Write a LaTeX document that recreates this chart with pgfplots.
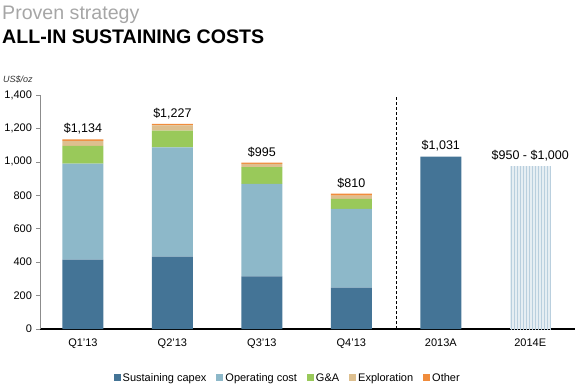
\documentclass[border=0pt]{standalone}
\usepackage{pgfplots}
\pgfplotsset{compat=1.18}
\usetikzlibrary{patterns}
\usepackage{fontspec}
\setmainfont{Liberation Sans}
\definecolor{capex}{RGB}{68,116,150}
\definecolor{opc}{RGB}{141,184,201}
\definecolor{gna}{RGB}{153,201,90}
\definecolor{expl}{RGB}{221,191,143}
\definecolor{oth}{RGB}{240,140,60}
\definecolor{ttlgray}{RGB}{166,166,166}
\definecolor{hatchc}{RGB}{185,207,222}
\tikzset{vallbl/.style={anchor=south,inner sep=0,font=\fontsize{12.5bp}{14bp}\selectfont}}
\begin{document}
\begin{tikzpicture}
\useasboundingbox (0,0) rectangle (580bp,-388bp);
\node[anchor=base west,inner sep=0,text=ttlgray,font=\fontsize{19.6bp}{22bp}\selectfont] at (2bp,-19bp) {Proven strategy};
\node[anchor=base west,inner sep=0,font=\fontsize{19.6bp}{22bp}\selectfont\bfseries] at (2bp,-43bp) {ALL-IN SUSTAINING COSTS};
\node[anchor=base west,inner sep=0,font=\fontsize{9bp}{10bp}\selectfont\itshape,text=black!80] at (3bp,-82bp) {US\$/oz};
\begin{axis}[
  at={(40bp,-329bp)}, anchor=south west,
  scale only axis, width=535bp, height=234bp,
  ybar stacked, bar width=41bp,
  xmin=-0.48, xmax=5.5, ymin=0, ymax=1400,
  axis lines*=left,
  x axis line style={black,line width=1.1bp},
  y axis line style={black!45,line width=0.6bp},
  xtick={0,1,2,3,4,5},
  xticklabels={Q1'13,Q2'13,Q3'13,Q4'13,2013A,2014E},
  x tick style={draw=none},
  ytick={0,200,400,600,800,1000,1200,1400},
  yticklabels={0,200,400,600,800,{1,000},{1,200},{1,400}},
  y tick style={black!45,line width=0.6bp},
  major tick length=4bp, tick align=outside,
  tick label style={font=\fontsize{11bp}{13bp}\selectfont},
  yticklabel style={xshift=-0.5bp},
  xticklabel style={yshift=-2bp},
  legend style={at={(0.463,-0.209)},anchor=center,draw=none,fill=none,
    font=\fontsize{11bp}{13bp}\selectfont,
    /tikz/every even column/.append style={column sep=8bp}},
  legend columns=-1,
  legend image code/.code={\fill[#1] (0bp,-3.5bp) rectangle (7bp,3.5bp);},
  clip=false,
]
\addplot[fill=capex,draw=none] coordinates {(0,415) (1,433) (2,315) (3,247) (4,1031) (5,0)};
\addplot[fill=opc,draw=none] coordinates {(0,575) (1,654) (2,553) (3,471) (4,0) (5,0)};
\addplot[fill=gna,draw=none] coordinates {(0,105) (1,100) (2,100) (3,60) (4,0) (5,0)};
\addplot[fill=expl,draw=none] coordinates {(0,30) (1,32) (2,20) (3,20) (4,0) (5,0)};
\addplot[fill=oth,draw=none] coordinates {(0,9) (1,8) (2,7) (3,12) (4,0) (5,0)};
\addplot[fill=hatchc!35,draw=none,postaction={pattern=vertical lines,pattern color=hatchc}] coordinates {(0,0) (1,0) (2,0) (3,0) (4,0) (5,975)};
\legend{Sustaining capex,Operating cost,G\&A,Exploration,Other}
\draw[densely dashed,black,line width=0.6bp] (axis cs:3.5,0) -- (axis cs:3.5,1400);
\node[vallbl] at ([yshift=5bp]axis cs:0,1134) {\$1,134};
\node[vallbl] at ([yshift=5bp]axis cs:1,1227) {\$1,227};
\node[vallbl] at ([yshift=5bp]axis cs:2,995) {\$995};
\node[vallbl] at ([yshift=5bp]axis cs:3,810) {\$810};
\node[vallbl] at ([yshift=5bp]axis cs:4,1031) {\$1,031};
\node[vallbl] at ([yshift=5bp]axis cs:5,975) {\$950 - \$1,000};
\end{axis}
\end{tikzpicture}
\end{document}
